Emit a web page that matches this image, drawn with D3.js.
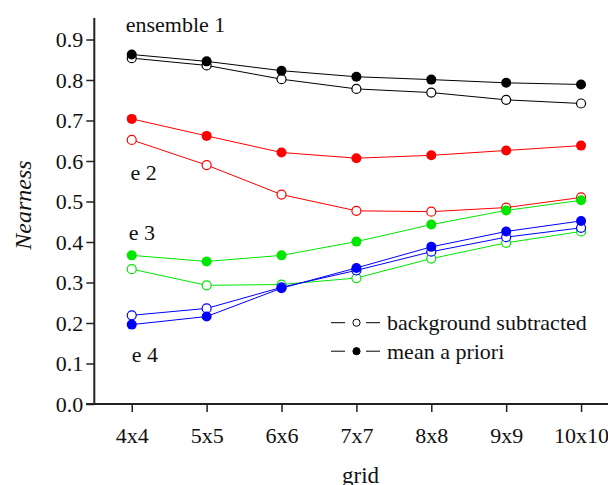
<!DOCTYPE html>
<html><head><meta charset="utf-8">
<script src="https://cdn.jsdelivr.net/npm/d3@7"></script>
<style>
html,body{margin:0;padding:0;background:#fff;}
svg{display:block;font-family:"Liberation Serif","Times New Roman",serif;}
</style></head>
<body><svg id="c" width="608" height="485"></svg>
<script>
const categories = ["4x4","5x5","6x6","7x7","8x8","9x9","10x10"];
const gridN = [4,5,6,7,8,9,10];
const yTicks = [0.0,0.1,0.2,0.3,0.4,0.5,0.6,0.7,0.8,0.9];

const e1Prior = [0.863,0.846,0.823,0.808,0.801,0.793,0.789];
const e1Bg    = [0.854,0.836,0.802,0.778,0.769,0.751,0.742];
const e2Prior = [0.704,0.662,0.621,0.607,0.614,0.626,0.638];
const e2Bg    = [0.652,0.590,0.517,0.477,0.475,0.485,0.510];
const e3Prior = [0.367,0.352,0.367,0.401,0.443,0.478,0.503];
const e3Bg    = [0.333,0.293,0.295,0.311,0.359,0.398,0.426];
const e4Prior = [0.196,0.216,0.286,0.336,0.388,0.426,0.452];
const e4Bg    = [0.219,0.236,0.288,0.330,0.376,0.412,0.435];

const series = [
  {name:"ensemble 1", color:"#000000", prior:e1Prior, bg:e1Bg},
  {name:"e 2", color:"#ff0000", prior:e2Prior, bg:e2Bg},
  {name:"e 3", color:"#00e600", prior:e3Prior, bg:e3Bg},
  {name:"e 4", color:"#0000ff", prior:e4Prior, bg:e4Bg}
];
const labels = [
  {text:"ensemble 1", v:0.919, xv:3.92},
  {text:"e 2", v:0.553, xv:3.985},
  {text:"e 3", v:0.404, xv:3.96},
  {text:"e 4", v:0.104, xv:4.0}
];
const legendItems = [
  {text:"background subtracted", filled:false},
  {text:"mean a priori", filled:true}
];

const svg = d3.select("#c");
const x = d3.scaleLinear().domain([3.5,10.5]).range([94.3,618.5]);
const y = d3.scaleLinear().domain([0,0.9]).range([404,39.5]);
const axisColor = "#222";
const FS = 22;

// y axis
const yAxis = svg.append("g").attr("transform","translate(94.3,0)")
  .call(d3.axisLeft(y).tickValues(yTicks).tickFormat(d3.format(".1f")).tickSize(8).tickPadding(3));
yAxis.select(".domain").remove();
yAxis.append("line").attr("x1",0).attr("x2",0).attr("y1",18).attr("y2",404).attr("stroke",axisColor).attr("stroke-width",2);
yAxis.selectAll(".tick line").attr("stroke",axisColor).attr("stroke-width",1.5);
yAxis.selectAll(".tick text").attr("font-size",FS).attr("fill","#111").attr("font-family","Liberation Serif, serif");

// x axis
const xAxis = svg.append("g").attr("transform","translate(0,404)")
  .call(d3.axisBottom(x).tickValues(gridN).tickFormat((d,i)=>categories[i]).tickSize(8).tickPadding(15));
xAxis.select(".domain").remove();
xAxis.append("line").attr("x1",86).attr("x2",608).attr("y1",0).attr("y2",0).attr("stroke",axisColor).attr("stroke-width",2);
xAxis.selectAll(".tick line").attr("stroke",axisColor).attr("stroke-width",1.5);
xAxis.selectAll(".tick text").attr("font-size",FS).attr("fill","#111").attr("font-family","Liberation Serif, serif");

// axis titles
svg.append("text").attr("x",360.5).attr("y",482.5).attr("text-anchor","middle")
  .attr("font-size",23).attr("fill","#111").text("grid");
svg.append("text").attr("transform","translate(31,205) rotate(-90)").attr("text-anchor","middle")
  .attr("font-size",24).attr("font-style","italic").attr("fill","#111").text("Nearness");

// lines & markers
const line = d3.line().x((d,i)=>x(gridN[i])).y(d=>y(d));
series.forEach(s=>{
  ["bg","prior"].forEach(k=>{
    svg.append("path").attr("d",line(s[k])).attr("fill","none").attr("stroke",s.color).attr("stroke-width",1);
  });
});
series.forEach(s=>{
  svg.selectAll(null).data(s.bg).enter().append("circle")
    .attr("cx",(d,i)=>x(gridN[i])).attr("cy",d=>y(d)).attr("r",4.5)
    .attr("fill","#fff").attr("stroke",s.color).attr("stroke-width",1.2);
  svg.selectAll(null).data(s.prior).enter().append("circle")
    .attr("cx",(d,i)=>x(gridN[i])).attr("cy",d=>y(d)).attr("r",5)
    .attr("fill",s.color).attr("stroke","none");
});

// series labels
labels.forEach(l=>{
  svg.append("text").attr("x",x(l.xv)).attr("y",y(l.v)).attr("font-size",FS).attr("fill","#111").text(l.text);
});

// legend
legendItems.forEach((it,i)=>{
  const ly = 322.7 + i*28.5;
  const g = svg.append("g");
  g.append("line").attr("x1",331).attr("x2",345).attr("y1",ly).attr("y2",ly).attr("stroke","#000").attr("stroke-width",1);
  g.append("line").attr("x1",366).attr("x2",380).attr("y1",ly).attr("y2",ly).attr("stroke","#000").attr("stroke-width",1);
  g.append("circle").attr("cx",356.5).attr("cy",ly).attr("r",3.6)
    .attr("fill",it.filled?"#000":"#fff").attr("stroke","#000").attr("stroke-width",1);
  g.append("text").attr("x",387).attr("y",ly+7.3).attr("font-size",FS).attr("fill","#111").text(it.text);
});
</script></body></html>
